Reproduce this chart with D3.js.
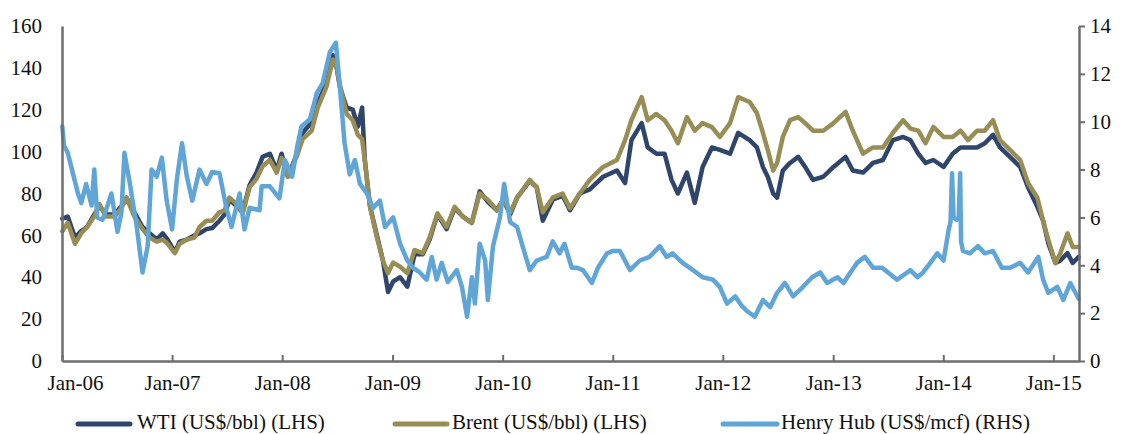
<!DOCTYPE html>
<html>
<head>
<meta charset="utf-8">
<script src="https://d3js.org/d3.v7.min.js"></script>
<style>
  html, body { margin: 0; padding: 0; background: #ffffff; }
  svg { display: block; font-family: "Liberation Serif", "Times New Roman", serif; }
</style>
</head>
<body>
<div id="chart"></div>
<script>
'use strict';

// ─── DATA ────────────────────────────────────────────────────

// WTI + Brent share the same sample dates
var oilDates = [
  "2006-01-02","2006-01-20","2006-02-13","2006-03-06","2006-03-25","2006-04-18","2006-05-05","2006-05-27",
  "2006-06-24","2006-07-17","2006-08-03","2006-08-29","2006-09-25","2006-10-18","2006-11-11","2006-12-01",
  "2006-12-17","2007-01-10","2007-01-26","2007-02-19","2007-03-16","2007-04-02","2007-04-25","2007-05-14",
  "2007-06-07","2007-06-24","2007-07-10","2007-08-03","2007-08-23","2007-09-15","2007-10-08","2007-10-28",
  "2007-11-21","2007-12-14","2007-12-30","2008-01-20","2008-02-19","2008-03-09","2008-04-08","2008-04-28",
  "2008-05-27","2008-06-17","2008-06-30","2008-07-10","2008-08-02","2008-08-22","2008-09-08","2008-09-22",
  "2008-10-01","2008-10-18","2008-11-10","2008-11-30","2008-12-17","2009-01-03","2009-01-26","2009-02-19",
  "2009-03-15","2009-04-11","2009-05-04","2009-05-30","2009-06-29","2009-07-26","2009-08-22","2009-09-21",
  "2009-10-17","2009-11-13","2009-12-13","2010-01-03","2010-01-26","2010-02-18","2010-04-01","2010-04-24",
  "2010-05-14","2010-06-16","2010-07-19","2010-08-12","2010-09-14","2010-10-17","2010-11-30","2011-01-15",
  "2011-02-11","2011-03-04","2011-04-07","2011-04-27","2011-05-26","2011-06-22","2011-07-15","2011-08-05",
  "2011-09-04","2011-09-30","2011-10-26","2011-11-26","2011-12-22","2012-01-25","2012-02-21","2012-03-30",
  "2012-04-23","2012-05-13","2012-05-29","2012-06-16","2012-06-29","2012-07-18","2012-08-11","2012-09-07",
  "2012-09-30","2012-10-26","2012-11-29","2013-01-02","2013-02-11","2013-03-07","2013-04-10","2013-05-13",
  "2013-06-15","2013-07-18","2013-08-21","2013-09-14","2013-10-10","2013-11-03","2013-11-29","2014-01-02",
  "2014-02-01","2014-02-27","2014-03-24","2014-04-23","2014-05-19","2014-06-15","2014-07-08","2014-08-10",
  "2014-09-13","2014-10-09","2014-11-09","2014-11-28","2014-12-15","2015-01-08","2015-01-24","2015-02-17",
  "2015-03-06","2015-03-26"
];

var wtiValues = [
  68, 69, 59, 62, 64, 70, 74, 70,
  70, 74, 78, 71, 64, 61, 58, 61,
  58, 52, 57, 58, 60, 61, 63, 63.5,
  67, 70, 77, 74, 71, 84, 90, 97.5,
  99, 91, 99, 88, 99, 109, 114, 123,
  133, 146, 140, 131, 121, 120, 112, 121,
  96, 74, 60, 48, 33, 38, 40, 35.5,
  51, 51, 58, 70, 63, 73, 69, 66,
  81, 76, 72, 77, 70, 78, 86, 83,
  67, 77, 79, 72, 80, 82, 88, 91,
  85, 105.5, 113.6, 102, 99, 99, 86.5, 80,
  90, 75.5, 92.7, 102, 100.8, 99, 109, 105.5,
  102, 92.7, 88, 80, 78, 91, 94.6, 97.5,
  92.7, 86.5, 88, 92.7, 97.5, 91, 90, 94.6,
  96, 105.5, 107, 105.5, 99, 94.6, 96, 92.7,
  99, 102, 102, 102, 104, 108, 102, 97.5,
  92.7, 83, 73.6, 67, 56.3, 46.8, 48, 51.5,
  46.8, 49.7
];

var brentValues = [
  62, 66, 56, 61, 64, 69, 75, 69,
  69, 73, 78, 69, 63, 59, 57, 58,
  56, 51.5, 56, 58, 59, 64, 67, 67,
  71, 72, 78, 75, 70.5, 83, 87, 93,
  96, 90, 97, 88, 98, 106, 110, 121,
  131, 144, 140, 132, 118, 115, 108, 106,
  96, 74, 59, 48, 42, 47, 45, 42,
  53, 51.5, 59, 70.5, 64, 73.6, 69, 66,
  80, 77, 72, 77, 71, 78, 86.5, 83,
  71, 78, 80, 73, 80, 86.5, 92.7, 96,
  105.5, 115, 126, 115, 118, 115, 110, 104,
  116.5, 110, 113.6, 111.7, 107, 113.6, 126, 123.7,
  118.4, 109, 100.8, 91, 94.6, 107, 115, 116.5,
  113.6, 110, 110, 113.6, 119, 110, 99, 102,
  102, 109, 115, 111, 110, 104, 111.8, 107,
  107, 110, 105.5, 110, 110, 115, 105.5, 100.8,
  96, 85, 78, 67, 58, 46.8, 51.5, 61,
  54.5, 54.5
];

// Henry Hub has its own sample dates (spikier series)
var hhDates = [
  "2006-01-02","2006-01-08","2006-01-20","2006-02-07","2006-02-23","2006-03-06","2006-03-22","2006-04-09",
  "2006-04-18","2006-04-28","2006-05-15","2006-06-01","2006-06-14","2006-07-04","2006-07-17","2006-07-27",
  "2006-08-13","2006-09-06","2006-09-25","2006-10-12","2006-10-25","2006-11-11","2006-11-28","2006-12-14",
  "2007-01-01","2007-01-17","2007-02-03","2007-02-19","2007-03-09","2007-04-02","2007-04-25","2007-05-14",
  "2007-06-07","2007-06-30","2007-07-17","2007-08-13","2007-08-29","2007-09-15","2007-10-18","2007-10-25",
  "2007-11-21","2007-12-23","2008-01-10","2008-02-03","2008-02-19","2008-03-05","2008-04-02","2008-04-25",
  "2008-05-14","2008-06-07","2008-06-27","2008-07-10","2008-07-26","2008-08-12","2008-08-29","2008-09-15",
  "2008-10-08","2008-10-28","2008-11-20","2008-12-07","2009-01-03","2009-01-26","2009-02-19","2009-03-09",
  "2009-04-01","2009-04-24","2009-05-11","2009-05-27","2009-06-13","2009-07-03","2009-08-02","2009-08-19",
  "2009-09-05","2009-09-21","2009-10-01","2009-10-17","2009-11-04","2009-11-13","2009-11-30","2009-12-23",
  "2010-01-06","2010-01-26","2010-02-18","2010-03-08","2010-04-01","2010-04-24","2010-05-27","2010-06-16",
  "2010-07-09","2010-07-25","2010-08-18","2010-09-04","2010-09-24","2010-10-24","2010-11-13","2010-12-13",
  "2011-01-02","2011-01-25","2011-02-27","2011-04-01","2011-05-03","2011-06-06","2011-06-29","2011-07-18",
  "2011-08-21","2011-09-24","2011-10-26","2011-11-29","2011-12-22","2012-01-15","2012-02-11","2012-03-04",
  "2012-03-20","2012-04-16","2012-05-13","2012-06-06","2012-06-29","2012-07-25","2012-08-21","2012-09-23",
  "2012-10-23","2012-11-19","2012-12-12","2013-01-15","2013-02-04","2013-02-27","2013-03-21","2013-04-16",
  "2013-05-13","2013-06-12","2013-07-02","2013-08-01","2013-09-03","2013-09-14","2013-10-07","2013-10-26",
  "2013-11-19","2013-12-12","2014-01-02","2014-01-19","2014-01-25","2014-01-30","2014-02-04","2014-02-14",
  "2014-02-21","2014-02-26","2014-03-01","2014-03-07","2014-03-30","2014-04-26","2014-05-19","2014-06-15",
  "2014-07-14","2014-08-10","2014-09-13","2014-10-09","2014-11-12","2014-11-28","2014-12-15","2015-01-14",
  "2015-02-03","2015-02-26","2015-03-26"
];

var hhValues = [
  9.8, 9.0, 8.7, 7.8, 7.0, 6.6, 7.4, 6.5,
  8.0, 6.0, 5.9, 6.5, 7.0, 5.4, 6.2, 8.7,
  7.5, 5.6, 3.7, 4.8, 8.0, 7.7, 8.5, 6.7,
  5.5, 7.6, 9.1, 7.7, 6.7, 8.0, 7.4, 7.9,
  7.85, 6.4, 5.6, 7.0, 5.5, 6.4, 6.3, 7.3,
  7.3, 6.8, 8.4, 7.7, 8.9, 9.8, 10.1, 11.2,
  11.6, 12.9, 13.3, 11.5, 9.1, 7.8, 8.4, 7.4,
  7.0, 6.4, 6.7, 5.6, 6.0, 4.9, 4.2, 3.9,
  3.7, 3.4, 4.35, 3.4, 4.1, 3.3, 3.8, 3.1,
  1.85, 3.5, 2.4, 4.9, 4.2, 2.55, 4.8, 6.0,
  7.4, 5.8, 5.6, 4.8, 3.8, 4.2, 4.35, 5.0,
  4.5, 4.9, 3.9, 3.9, 3.8, 3.26, 3.9, 4.5,
  4.6, 4.6, 3.8, 4.2, 4.35, 4.8, 4.35, 4.5,
  4.1, 3.8, 3.5, 3.4, 3.1, 2.4, 2.7, 2.3,
  2.1, 1.85, 2.55, 2.25, 2.85, 3.26, 2.7, 3.1,
  3.5, 3.7, 3.26, 3.5, 3.26, 3.7, 4.1, 4.35,
  3.9, 3.9, 3.7, 3.4, 3.7, 3.8, 3.5, 3.7,
  4.1, 4.5, 4.2, 5.5, 5.8, 7.85, 6.0, 5.9,
  6.0, 7.85, 5.0, 4.6, 4.5, 4.8, 4.5, 4.6,
  3.9, 3.9, 4.1, 3.7, 4.35, 3.4, 2.85, 3.1,
  2.55, 3.26, 2.6
];

var leftTicks = [0, 20, 40, 60, 80, 100, 120, 140, 160];
var rightTicks = [0, 2, 4, 6, 8, 10, 12, 14];

var seriesNames = ["WTI (US$/bbl) (LHS)", "Brent (US$/bbl) (LHS)", "Henry Hub (US$/mcf) (RHS)"];
var seriesColors = ["#30456b", "#978d55", "#60a5d8"];

// ─── SETUP ───────────────────────────────────────────────────

var W = 1122, H = 434;
var plot = { left: 62, right: 1079, top: 26, bottom: 361 };
var axisGrey = '#6d6d70';
var FONT = 21;

var parse = d3.timeParse('%Y-%m-%d');

var svg = d3.select('#chart')
    .append('svg')
    .attr('width', W)
    .attr('height', H);

var x = d3.scaleTime()
    .domain([new Date(2006, 0, 1), new Date(2015, 2, 27)])
    .range([plot.left, plot.right]);

var yLeft = d3.scaleLinear().domain([0, 160]).range([plot.bottom, plot.top]);
var yRight = d3.scaleLinear().domain([0, 14]).range([plot.bottom, plot.top]);

// ─── LINES ───────────────────────────────────────────────────

function pairUp(dates, values) {
    return dates.map(function(d, i) { return { date: parse(d), value: values[i] }; });
}

var series = [
    { data: pairUp(oilDates, wtiValues), y: yLeft, color: seriesColors[0] },
    { data: pairUp(oilDates, brentValues), y: yLeft, color: seriesColors[1] },
    { data: pairUp(hhDates, hhValues), y: yRight, color: seriesColors[2] }
];

var lines = svg.append('g').attr('class', 'lines');
series.forEach(function(s) {
    var line = d3.line()
        .x(function(d) { return x(d.date); })
        .y(function(d) { return s.y(d.value); });
    lines.append('path')
        .datum(s.data)
        .attr('d', line)
        .attr('fill', 'none')
        .attr('stroke', s.color)
        .attr('stroke-width', 4.5)
        .attr('stroke-linejoin', 'round')
        .attr('stroke-linecap', 'round');
});

// ─── AXES ────────────────────────────────────────────────────

function styleAxis(g, width) {
    g.selectAll('path.domain').attr('stroke', axisGrey).attr('stroke-width', width);
    g.selectAll('.tick line').attr('stroke', axisGrey).attr('stroke-width', 2);
    g.selectAll('.tick text')
        .attr('fill', '#111')
        .attr('font-size', FONT)
        .attr('font-family', '"Liberation Serif", "Times New Roman", serif');
}

var gLeft = svg.append('g')
    .attr('transform', 'translate(' + plot.left + ',0)')
    .call(d3.axisLeft(yLeft).tickValues(leftTicks).tickSize(0).tickPadding(20));
styleAxis(gLeft, 2.5);

var gRight = svg.append('g')
    .attr('transform', 'translate(' + plot.right + ',0)')
    .call(d3.axisRight(yRight).tickValues(rightTicks).tickSize(6).tickSizeOuter(0).tickPadding(5));
styleAxis(gRight, 2.5);

var gBottom = svg.append('g')
    .attr('transform', 'translate(0,' + plot.bottom + ')')
    .call(d3.axisBottom(x)
        .ticks(d3.timeYear.every(1))
        .tickSize(-6)
        .tickSizeOuter(0)
        .tickPadding(14)
        .tickFormat(d3.timeFormat('%b-%y')));
styleAxis(gBottom, 2.5);

// first label sits right of the axis corner, as in the source
gBottom.select('.tick text').attr('dx', 13);

// ─── LEGEND ──────────────────────────────────────────────────

var legendSlots = [
    { x1: 78, x2: 130, tx: 137 },
    { x1: 395, x2: 447, tx: 452 },
    { x1: 723, x2: 777, tx: 781 }
];
var legendY = 424;

var legend = svg.append('g').attr('class', 'legend');
seriesNames.forEach(function(name, i) {
    var slot = legendSlots[i];
    legend.append('line')
        .attr('x1', slot.x1).attr('x2', slot.x2)
        .attr('y1', legendY).attr('y2', legendY)
        .attr('stroke', seriesColors[i])
        .attr('stroke-width', 5)
        .attr('stroke-linecap', 'round');
    legend.append('text')
        .attr('x', slot.tx)
        .attr('y', legendY + 5)
        .attr('font-size', FONT)
        .attr('fill', '#111')
        .text(name);
});
</script>
</body>
</html>
